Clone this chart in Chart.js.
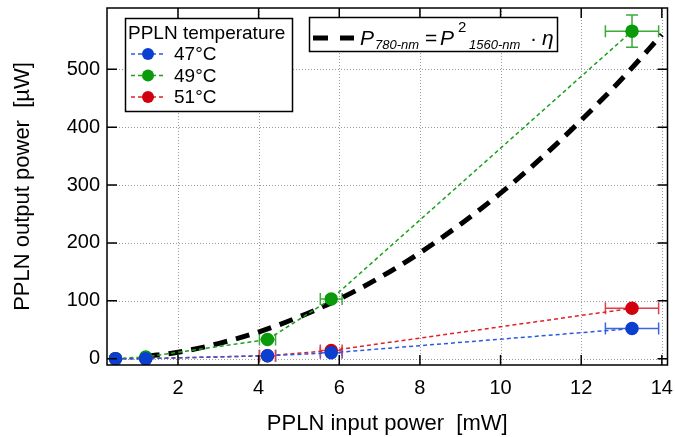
<!DOCTYPE html>
<html>
<head>
<meta charset="utf-8">
<script src="https://cdn.jsdelivr.net/npm/chart.js@4/dist/chart.umd.min.js"></script>
<style>
html,body{margin:0;padding:0;background:#fff;}
#c{display:block;}
</style>
</head>
<body>
<canvas id="c" width="675" height="437"></canvas>
<script>
// ---- data ----
const inputPower = [0.45, 1.2, 4.22, 5.8, 13.26];       // mW
const inputErr   = [0, 0, 0.2, 0.27, 0.66];            // mW (x error)
const out47 = [0, 0, 5, 10, 52];                       // µW
const err47 = [0, 0, 1, 1, 2];
const out49 = [0, 3, 33, 103, 566];
const err49 = [0, 0, 3, 5, 28];
const out51 = [0, 0, 5, 14, 87];
const err51 = [0, 0, 1, 2, 3];
const theoryX = [1.2, 2, 3, 4, 5, 6, 7, 8, 9, 10, 11, 12, 13, 14];
const theoryY = [4, 11, 26, 46, 72, 103, 140, 183, 232, 286, 346, 412, 483, 560];
const xTicks = [2, 4, 6, 8, 10, 12, 14];
const yTicks = [0, 100, 200, 300, 400, 500];
const seriesLabels = ['47°C', '49°C', '51°C'];
const legendTitle = 'PPLN temperature';
const xTitle = 'PPLN input power  [mW]';
const yTitle = 'PPLN output power  [µW]';

const FONT = "'Liberation Sans', Arial, sans-serif";
const colors = ['#0a3fd0', '#0a9a0a', '#d0000f'];
const lineColors = ['#2a5ae0', '#1aa01a', '#e0202a'];
const errColors = ['#3a66e0', '#3aaa3a', '#e04048'];

function pts(xs, ys) { return xs.map((x, i) => ({x: x, y: ys[i]})); }

const outs = [out47, out49, out51];
const errs = [err47, err49, err51];

const datasets = outs.map((ys, k) => ({
  label: seriesLabels[k],
  data: pts(inputPower, ys),
  xErr: inputErr,
  yErr: errs[k],
  borderColor: lineColors[k],
  backgroundColor: colors[k],
  pointBackgroundColor: colors[k],
  pointBorderColor: colors[k],
  pointRadius: 6,
  pointHoverRadius: 6,
  borderWidth: 1.5,
  borderDash: [4, 3],
  showLine: true,
  tension: 0,
  order: 1
}));
datasets.push({
  label: 'theory',
  data: pts(theoryX, theoryY),
  borderColor: '#000',
  borderWidth: 5,
  borderDash: [14, 9],
  pointRadius: 0,
  showLine: true,
  tension: 0.4,
  cubicInterpolationMode: 'monotone',
  order: 2
});

const framePlugin = {
  id: 'frame',
  beforeDatasetsDraw(chart) {
    const {ctx, chartArea: a, scales: {x, y}} = chart;
    ctx.save();
    ctx.strokeStyle = '#9a9a9a';
    ctx.lineWidth = 1;
    ctx.setLineDash([1, 2]);
    xTicks.forEach(v => {
      const px = Math.round(x.getPixelForValue(v)) + 0.5;
      ctx.beginPath(); ctx.moveTo(px, a.top); ctx.lineTo(px, a.bottom); ctx.stroke();
    });
    yTicks.forEach(v => {
      const py = Math.round(y.getPixelForValue(v)) + 0.5;
      ctx.beginPath(); ctx.moveTo(a.left, py); ctx.lineTo(a.right, py); ctx.stroke();
    });
    ctx.setLineDash([]);
    // error bars
    chart.data.datasets.forEach((ds, k) => {
      if (!ds.xErr) return;
      ctx.strokeStyle = errColors[k];
      ctx.lineWidth = 1.5;
      ds.data.forEach((p, i) => {
        const cx = x.getPixelForValue(p.x), cy = y.getPixelForValue(p.y);
        const ex = ds.xErr[i], ey = ds.yErr[i];
        if (ex > 0) {
          const l = x.getPixelForValue(p.x - ex), r = x.getPixelForValue(p.x + ex);
          ctx.beginPath();
          ctx.moveTo(l, cy); ctx.lineTo(r, cy);
          ctx.moveTo(l, cy - 6); ctx.lineTo(l, cy + 6);
          ctx.moveTo(r, cy - 6); ctx.lineTo(r, cy + 6);
          ctx.stroke();
        }
        if (ey > 0) {
          const t = y.getPixelForValue(p.y + ey), b = y.getPixelForValue(p.y - ey);
          ctx.beginPath();
          ctx.moveTo(cx, t); ctx.lineTo(cx, b);
          ctx.moveTo(cx - 6, t); ctx.lineTo(cx + 6, t);
          ctx.moveTo(cx - 6, b); ctx.lineTo(cx + 6, b);
          ctx.stroke();
        }
      });
    });
    ctx.restore();
  },
  afterDraw(chart) {
    const {ctx, chartArea: a, scales: {x, y}} = chart;
    ctx.save();
    // inward ticks on all sides
    ctx.strokeStyle = '#000';
    ctx.lineWidth = 1.5;
    const L = 10;
    xTicks.forEach(v => {
      const px = x.getPixelForValue(v);
      ctx.beginPath();
      ctx.moveTo(px, a.bottom); ctx.lineTo(px, a.bottom - L);
      ctx.moveTo(px, a.top); ctx.lineTo(px, a.top + L);
      ctx.stroke();
    });
    yTicks.forEach(v => {
      const py = y.getPixelForValue(v);
      ctx.beginPath();
      ctx.moveTo(a.left, py); ctx.lineTo(a.left + L, py);
      ctx.moveTo(a.right, py); ctx.lineTo(a.right - L, py);
      ctx.stroke();
    });
    // frame
    ctx.lineWidth = 1.5;
    ctx.strokeRect(a.left, a.top, a.right - a.left, a.bottom - a.top);

    // legend box
    const lx = 125, ly = 18, lw = 167, lh = 93;
    ctx.fillStyle = '#fff';
    ctx.fillRect(lx, ly, lw, lh);
    ctx.strokeStyle = '#000';
    ctx.lineWidth = 1.5;
    ctx.strokeRect(lx + 0.5, ly + 0.5, lw, lh);
    ctx.fillStyle = '#000';
    ctx.font = '19px ' + FONT;
    ctx.textBaseline = 'alphabetic';
    ctx.textAlign = 'left';
    ctx.fillText(legendTitle, 128, 39);
    seriesLabels.forEach((lab, k) => {
      const cy = 54 + k * 21.5;
      ctx.strokeStyle = lineColors[k];
      ctx.lineWidth = 1.5;
      ctx.setLineDash([4, 3]);
      ctx.beginPath(); ctx.moveTo(131, cy); ctx.lineTo(166, cy); ctx.stroke();
      ctx.setLineDash([]);
      ctx.fillStyle = colors[k];
      ctx.beginPath(); ctx.arc(148, cy, 6, 0, Math.PI * 2); ctx.fill();
      ctx.fillStyle = '#000';
      ctx.textBaseline = 'middle';
      ctx.fillText(lab, 174, cy + 1);
    });

    // equation box
    const ex = 309, ey = 17, ew = 248, eh = 34;
    ctx.fillStyle = '#fff';
    ctx.fillRect(ex, ey, ew, eh);
    ctx.strokeStyle = '#000';
    ctx.lineWidth = 1.5;
    ctx.strokeRect(ex + 0.5, ey + 0.5, ew, eh);
    ctx.lineWidth = 5;
    ctx.beginPath();
    ctx.moveTo(313, 38); ctx.lineTo(328, 38);
    ctx.moveTo(340, 38); ctx.lineTo(354, 38);
    ctx.stroke();
    ctx.fillStyle = '#000';
    ctx.textBaseline = 'alphabetic';
    const base = 45;
    const big = 'italic 21px ' + FONT, small = 'italic 13px ' + FONT;
    ctx.font = big; ctx.fillText('P', 360, base);
    ctx.font = small; ctx.fillText('780-nm', 375, base + 4);
    ctx.font = '21px ' + FONT; ctx.fillText('=', 425, base);
    ctx.font = big; ctx.fillText('P', 440, base);
    ctx.font = '15px ' + FONT; ctx.fillText('2', 458, base - 13);
    ctx.font = small; ctx.fillText('1560-nm', 469, base + 4);
    ctx.font = '21px ' + FONT; ctx.fillText('·', 530, base);
    ctx.font = big; ctx.fillText('η', 542, base);
    ctx.restore();
  }
};

new Chart(document.getElementById('c'), {
  type: 'scatter',
  data: { datasets },
  options: {
    responsive: false,
    animation: false,
    events: [],
    layout: { padding: { top: 8, right: 5, left: 0, bottom: 0 } },
    plugins: { legend: { display: false }, tooltip: { enabled: false } },
    scales: {
      x: {
        type: 'linear',
        min: 0.24, max: 14.14,
        afterBuildTicks(s) { s.ticks = xTicks.map(v => ({value: v})); },
        afterFit(s) { s.height = 72; s.paddingLeft = 0; s.paddingRight = 0; },
        grid: { display: false, drawTicks: false },
        border: { display: false },
        ticks: { color: '#000', font: { family: FONT, size: 20 }, padding: 11, maxRotation: 0, autoSkip: false },
        title: { display: true, text: xTitle, color: '#000', font: { family: FONT, size: 22 }, padding: { top: 0, bottom: 0 } }
      },
      y: {
        type: 'linear',
        min: -11, max: 606,
        afterBuildTicks(s) { s.ticks = yTicks.map(v => ({value: v})); },
        afterFit(s) { s.width = 107; s.paddingTop = 0; s.paddingBottom = 0; },
        grid: { display: false, drawTicks: false },
        border: { display: false },
        ticks: { color: '#000', font: { family: FONT, size: 20 }, padding: 7, autoSkip: false },
        title: { display: true, text: yTitle, color: '#000', font: { family: FONT, size: 22 }, padding: { top: 10, bottom: 10 } }
      }
    }
  },
  plugins: [framePlugin]
});
</script>
</body>
</html>
